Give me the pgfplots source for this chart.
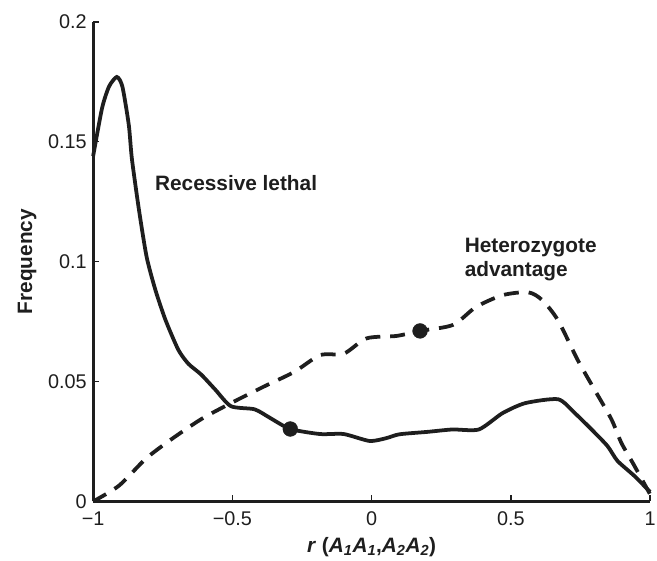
\documentclass[border=0pt]{standalone}
\usepackage{pgfplots}
\pgfplotsset{compat=1.18}
\usepackage{fontspec}
\setmainfont{Liberation Sans}
\definecolor{ink}{RGB}{30,30,30}
\begin{document}
\begin{tikzpicture}
\begin{axis}[
  scale only axis, width=562pt, height=484pt,
  xmin=-1, xmax=1, ymin=0, ymax=0.2,
  axis x line*=bottom, axis y line*=left,
  axis line style={line width=3pt, ink},
  tick style={line width=1.5pt, ink},
  tick align=inside, major tick length=6pt,
  xtick={-1,-0.5,0,0.5,1},
  xticklabels={−1,−0.5,0,0.5,1},
  ytick={0,0.05,0.1,0.15,0.2},
  yticklabels={0,0.05,0.1,0.15,0.2},
  ticklabel style={font=\fontsize{20}{24}\selectfont, text=ink},
  xticklabel style={yshift=-7pt},
  yticklabel style={xshift=-3pt},
  xlabel={\textbf{\textit{r} (\textit{A}\textsubscript{\textit{1}}\textit{A}\textsubscript{\textit{1}},\textit{A}\textsubscript{\textit{2}}\textit{A}\textsubscript{\textit{2}})}},
  ylabel={\textbf{Frequency}},
  label style={font=\fontsize{21}{25}\selectfont, text=ink},
  xlabel style={yshift=-5pt},
  ylabel style={yshift=5pt},
  clip=false,
]
\addplot[ink, line width=3.8pt, smooth, tension=0.4] coordinates {
(-1,0.144) (-0.968,0.164) (-0.943,0.173) (-0.915,0.177) (-0.895,0.173) (-0.872,0.157)
(-0.861,0.143) (-0.836,0.122)
(-0.808,0.102) (-0.776,0.088) (-0.740,0.0756) (-0.694,0.0632) (-0.658,0.0574)
(-0.612,0.0529) (-0.562,0.0467) (-0.505,0.0397) (-0.420,0.0384) (-0.363,0.0347)
(-0.292,0.0302) (-0.185,0.0281) (-0.10,0.0281) (-0.007,0.0252) (0.053,0.0264)
(0.10,0.028) (0.20,0.029) (0.29,0.030) (0.385,0.030) (0.47,0.0368) (0.552,0.041)
(0.67,0.0426) (0.73,0.0368) (0.790,0.030) (0.847,0.0231) (0.883,0.0169) (0.943,0.0107) (1.0,0.004)
};
\addplot[ink, line width=3.8pt, smooth, tension=0.45, dash pattern=on 15pt off 10pt] coordinates {
(-1,0) (-0.907,0.0066) (-0.811,0.0178) (-0.718,0.026) (-0.612,0.0343) (-0.505,0.041)
(-0.385,0.048) (-0.278,0.054) (-0.185,0.061) (-0.10,0.0616) (-0.018,0.068) (0.089,0.069)
(0.174,0.0711) (0.292,0.0736) (0.374,0.081) (0.47,0.086) (0.562,0.0872) (0.612,0.084)
(0.669,0.0756) (0.74,0.059) (0.80,0.0467) (0.861,0.0343) (0.897,0.0244) (0.943,0.015) (1.0,0.003)
};
\addplot[only marks, mark=*, mark size=7.5pt, ink] coordinates {(-0.292,0.0302) (0.174,0.0711)};
\node[anchor=west, font=\fontsize{21}{25}\selectfont\bfseries, text=ink] at (axis cs:-0.79,0.1326) {Recessive lethal};
\node[anchor=west, align=left, font=\fontsize{21}{24}\selectfont\bfseries, text=ink] at (axis cs:0.322,0.1008) {Heterozygote\\advantage};
\end{axis}
\pgfresetboundingbox
\path ([xshift=-94pt,yshift=22pt]current axis.north west) rectangle ([xshift=7pt,yshift=-60pt]current axis.south east);
\end{tikzpicture}
\end{document}
